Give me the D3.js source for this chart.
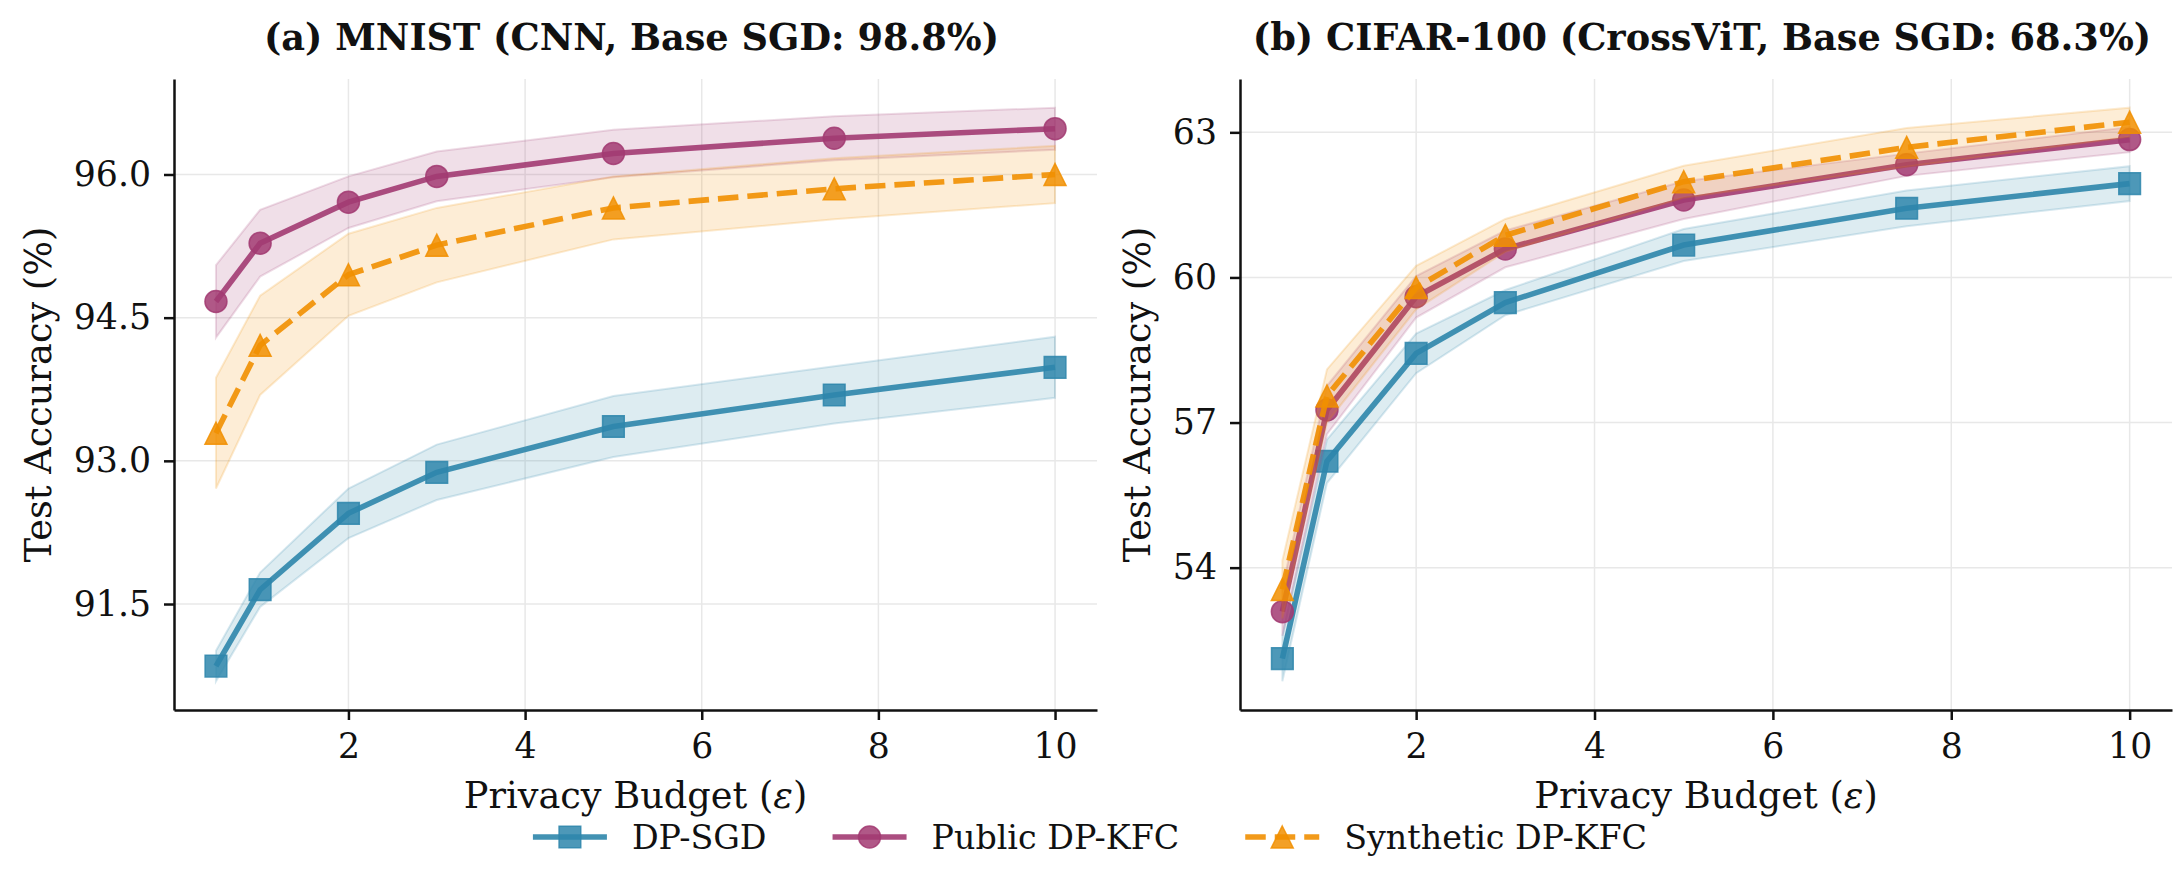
<!DOCTYPE html>
<html>
<head>
<meta charset="utf-8">
<title>DP-KFC accuracy vs privacy budget</title>
<script src="https://cdn.jsdelivr.net/npm/d3@7"></script>
<style>
    body { margin: 0; background: #fff; }
    svg { display: block; font-family: "DejaVu Serif", serif; }
    .grid line { stroke: #e8e8e8; stroke-width: 1.5px; }
    .axis .domain { stroke: #111; stroke-width: 2.5px; }
    .axis .tick line { stroke: #111; stroke-width: 2.5px; }
    .axis .tick text { font-size: 34.7px; fill: #111; font-family: "DejaVu Serif", serif; }
    .axis-label { font-size: 36.7px; fill: #111; }
    .title { font-size: 36.7px; font-weight: bold; fill: #111; }
    .legend text { font-size: 33.3px; fill: #111; }
</style>
</head>
<body>
<script>
// ---- data ----
var epsilons = [0.5, 1, 2, 3, 5, 7.5, 10];
var seriesNames = ["DP-SGD", "Public DP-KFC", "Synthetic DP-KFC"];
var panelTitles = ["(a) MNIST (CNN, Base SGD: 98.8%)", "(b) CIFAR-100 (CrossViT, Base SGD: 68.3%)"];
var xTicks = [2, 4, 6, 8, 10];
var mnistTicks = [91.5, 93.0, 94.5, 96.0];
var cifarTicks = [54, 57, 60, 63];

// MNIST
var mnistDpSgd = [90.85, 91.65, 92.45, 92.88, 93.36, 93.69, 93.98];
var mnistDpSgdStd = [0.16, 0.18, 0.26, 0.29, 0.32, 0.30, 0.32];
var mnistPublic = [94.67, 95.28, 95.71, 95.98, 96.22, 96.38, 96.48];
var mnistPublicStd = [0.38, 0.35, 0.27, 0.26, 0.25, 0.23, 0.22];
var mnistSynth = [93.29, 94.21, 94.95, 95.26, 95.65, 95.85, 96.00];
var mnistSynthStd = [0.58, 0.52, 0.43, 0.39, 0.33, 0.32, 0.30];

// CIFAR-100
var cifarDpSgd = [52.12, 56.20, 58.43, 59.48, 60.67, 61.43, 61.94];
var cifarDpSgdStd = [0.47, 0.45, 0.41, 0.26, 0.33, 0.37, 0.36];
var cifarPublic = [53.09, 57.26, 59.60, 60.59, 61.60, 62.33, 62.85];
var cifarPublicStd = [0.50, 0.50, 0.43, 0.38, 0.39, 0.23, 0.26];
var cifarSynth = [53.55, 57.55, 59.79, 60.87, 61.98, 62.69, 63.21];
var cifarSynthStd = [0.60, 0.55, 0.45, 0.34, 0.33, 0.40, 0.30];

// ---- styles / layout ----
var colors = ["#2E86AB", "#A23B72", "#F18F01"];
var dashes = [null, null, "20.5,9"];
var triangleUp = {
    draw: function (ctx, size) {
        var r = Math.sqrt(size) / 2;
        ctx.moveTo(0, -r);
        ctx.lineTo(r, r);
        ctx.lineTo(-r, r);
        ctx.closePath();
    }
};
var symbols = [d3.symbolSquare, d3.symbolCircle, triangleUp];
var symbolSizes = [470, 380, 484];

var width = 2180, height = 892;
var plotTop = 79, plotBottom = 710;
var frames = [{left: 174, right: 1097}, {left: 1240, right: 2172}];

var panels = [
    {
        title: panelTitles[0], ticks: mnistTicks, fmt: d3.format(".1f"),
        means: [mnistDpSgd, mnistPublic, mnistSynth],
        stds: [mnistDpSgdStd, mnistPublicStd, mnistSynthStd]
    },
    {
        title: panelTitles[1], ticks: cifarTicks, fmt: d3.format("d"),
        means: [cifarDpSgd, cifarPublic, cifarSynth],
        stds: [cifarDpSgdStd, cifarPublicStd, cifarSynthStd]
    }
];

var svg = d3.select("body").append("svg")
    .attr("width", width)
    .attr("height", height);

function padExtent(ext) {
    var pad = (ext[1] - ext[0]) * 0.05;
    return [ext[0] - pad, ext[1] + pad];
}

function drawPanel(panel, frame) {
    var x = d3.scaleLinear()
        .domain(padExtent(d3.extent(epsilons)))
        .range([frame.left, frame.right]);

    var bounds = [];
    panel.means.forEach(function (m, s) {
        m.forEach(function (v, i) {
            bounds.push(v - panel.stds[s][i], v + panel.stds[s][i]);
        });
    });
    var y = d3.scaleLinear()
        .domain(padExtent(d3.extent(bounds)))
        .range([plotBottom, plotTop]);

    // grid
    var grid = svg.append("g").attr("class", "grid");
    grid.selectAll("line.gx").data(xTicks).enter().append("line")
        .attr("x1", function (d) { return x(d); })
        .attr("x2", function (d) { return x(d); })
        .attr("y1", plotTop).attr("y2", plotBottom);
    grid.selectAll("line.gy").data(panel.ticks).enter().append("line")
        .attr("x1", frame.left).attr("x2", frame.right)
        .attr("y1", function (d) { return y(d); })
        .attr("y2", function (d) { return y(d); });

    var area = d3.area()
        .x(function (d) { return x(d.e); })
        .y0(function (d) { return y(d.lo); })
        .y1(function (d) { return y(d.hi); });
    var line = d3.line()
        .x(function (d) { return x(d.e); })
        .y(function (d) { return y(d.m); });

    panel.means.forEach(function (m, s) {
        var pts = epsilons.map(function (e, i) {
            var sd = panel.stds[s][i];
            return {e: e, m: m[i], lo: m[i] - sd, hi: m[i] + sd};
        });
        svg.append("path")
            .datum(pts)
            .attr("d", area)
            .attr("fill", colors[s])
            .attr("fill-opacity", 0.16)
            .attr("stroke", colors[s])
            .attr("stroke-opacity", 0.18)
            .attr("stroke-width", 2);
        svg.append("path")
            .datum(pts)
            .attr("d", line)
            .attr("fill", "none")
            .attr("stroke", colors[s])
            .attr("stroke-opacity", 0.9)
            .attr("stroke-width", 5.6)
            .attr("stroke-dasharray", dashes[s]);
        svg.selectAll(null).data(pts).enter().append("path")
            .attr("transform", function (d) {
                return "translate(" + x(d.e) + "," + y(d.m) + ")";
            })
            .attr("d", d3.symbol().type(symbols[s]).size(symbolSizes[s]))
            .attr("fill", colors[s])
            .attr("fill-opacity", 0.85)
            .attr("stroke", colors[s])
            .attr("stroke-opacity", 0.85)
            .attr("stroke-width", 1.5);
    });

    // axes
    svg.append("g")
        .attr("class", "axis")
        .attr("transform", "translate(0," + plotBottom + ")")
        .call(d3.axisBottom(x).tickValues(xTicks).tickSize(10).tickSizeOuter(0)
            .tickPadding(13).tickFormat(d3.format("d")));
    var yAxis = svg.append("g")
        .attr("class", "axis")
        .attr("transform", "translate(" + frame.left + ",0)")
        .call(d3.axisLeft(y).tickValues(panel.ticks).tickSize(10).tickSizeOuter(0)
            .tickPadding(13).tickFormat(panel.fmt));

    // y label sits just left of the widest tick label, like matplotlib
    var minLeft = d3.min(yAxis.selectAll(".tick text").nodes(), function (n) {
        return frame.left + n.getBBox().x;
    });

    var cx = (frame.left + frame.right) / 2;
    svg.append("text").attr("class", "title")
        .attr("x", cx - 4).attr("y", 50)
        .attr("text-anchor", "middle")
        .text(panel.title);
    var xl = svg.append("text").attr("class", "axis-label")
        .attr("x", cx).attr("y", 808)
        .attr("text-anchor", "middle");
    xl.append("tspan").text("Privacy Budget (");
    xl.append("tspan").attr("font-style", "italic").text("\u03b5");
    xl.append("tspan").text(")");
    svg.append("text").attr("class", "axis-label")
        .attr("transform", "translate(" + (minLeft - 23) + "," + ((plotTop + plotBottom) / 2) + ") rotate(-90)")
        .attr("text-anchor", "middle")
        .text("Test Accuracy (%)");
}

panels.forEach(function (p, i) { drawPanel(p, frames[i]); });

// legend, centred under both panels
var legend = svg.append("g").attr("class", "legend");
var legendY = 837, handleLen = 74, textGap = 25, colGap = 66;
var items = seriesNames.map(function (name, s) {
    var g = legend.append("g");
    g.append("line")
        .attr("x1", 0).attr("x2", handleLen)
        .attr("y1", 0).attr("y2", 0)
        .attr("stroke", colors[s])
        .attr("stroke-opacity", 0.9)
        .attr("stroke-width", 5.6)
        .attr("stroke-dasharray", dashes[s]);
    g.append("path")
        .attr("transform", "translate(" + handleLen / 2 + ",0)")
        .attr("d", d3.symbol().type(symbols[s]).size(symbolSizes[s]))
        .attr("fill", colors[s])
        .attr("fill-opacity", 0.85)
        .attr("stroke", colors[s])
        .attr("stroke-opacity", 0.85)
        .attr("stroke-width", 1.5);
    var t = g.append("text")
        .attr("x", handleLen + textGap)
        .attr("dy", "0.35em")
        .text(name);
    return {g: g, w: handleLen + textGap + t.node().getComputedTextLength()};
});
var total = d3.sum(items, function (d) { return d.w; }) + colGap * (items.length - 1);
var lx = width / 2 - total / 2;
items.forEach(function (it) {
    it.g.attr("transform", "translate(" + lx + "," + legendY + ")");
    lx += it.w + colGap;
});
</script>
</body>
</html>
